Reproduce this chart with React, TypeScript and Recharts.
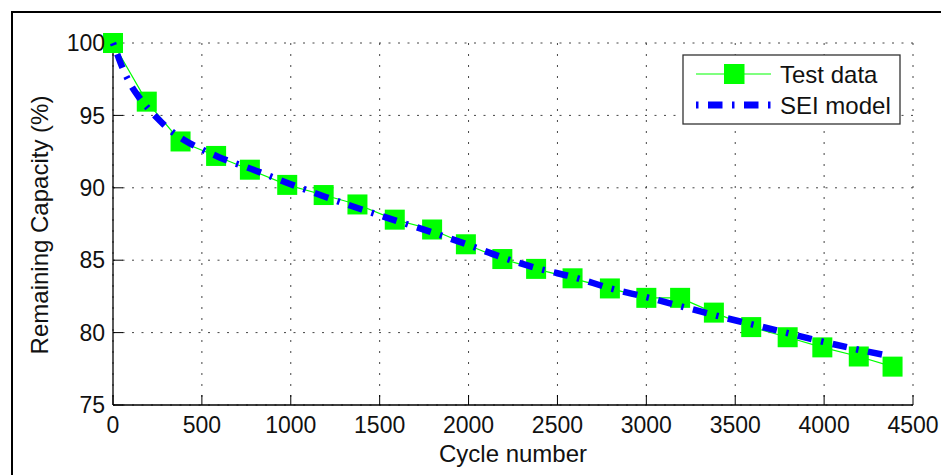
import { LineChart, Line, XAxis, YAxis, CartesianGrid } from 'recharts';

// test data (squares)
const testCycles = [0, 190, 380, 580, 770, 980, 1185, 1375, 1585, 1795, 1985, 2190, 2380, 2585, 2795, 3000, 3190, 3380, 3590, 3795, 3990, 4195, 4385];
const testCapacity = [100, 95.95, 93.2, 92.2, 91.25, 90.2, 89.5, 88.85, 87.8, 87.12, 86.1, 85.08, 84.4, 83.75, 83.05, 82.4, 82.4, 81.38, 80.38, 79.68, 78.98, 78.35, 77.65];

// SEI model curve
const modelCycles = [0, 25, 50, 75, 100, 150, 200, 250, 300, 400, 500, 600, 800, 1000, 1200, 1400, 1600, 1800, 2000, 2200, 2400, 2600, 2800, 3000, 3200, 3400, 3600, 3800, 4000, 4200, 4340];
const modelCapacity = [100, 99.2, 98.4, 97.7, 97.1, 96.2, 95.45, 94.8, 94.2, 93.3, 92.65, 92.1, 91.2, 90.25, 89.35, 88.5, 87.7, 86.9, 86.05, 85.15, 84.4, 83.8, 83.05, 82.45, 81.8, 81.15, 80.55, 79.95, 79.35, 78.8, 78.45];

const xTicks = [0, 500, 1000, 1500, 2000, 2500, 3000, 3500, 4000, 4500];
const yTicks = [75, 80, 85, 90, 95, 100];

const testData = testCycles.map((x, i) => ({ x, test: testCapacity[i] }));
const modelData = modelCycles.map((x, i) => ({ x, model: modelCapacity[i] }));

const FONT = '"Liberation Sans", Arial, sans-serif';
const GREEN = '#00ff00';
const BLUE = '#0000ff';
const SEI_DASH = '2.5 9.5 14.5 9.5';

const tickStyle = { fontSize: 23, fontFamily: FONT, fill: '#111' };

const Square = (props: any) => {
  const { cx, cy, index } = props;
  if (cx == null || cy == null) return <g key={`sq-${index}`} />;
  return <rect key={`sq-${index}`} x={cx - 10} y={cy - 10} width={20} height={20} fill={GREEN} />;
};

function LegendBox() {
  return (
    <svg
      width={219}
      height={71}
      style={{ position: 'absolute', left: 682, top: 54 }}
    >
      <rect x={1} y={1} width={217} height={69} fill="#fff" stroke="#333" strokeWidth={1.3} />
      <line x1={14} y1={20} x2={89} y2={20} stroke={GREEN} strokeWidth={1.2} />
      <rect x={42} y={10} width={20.5} height={20} fill={GREEN} />
      <text x={98} y={28.5} fontSize={24} fontFamily={FONT} fill="#111">Test data</text>
      <line x1={14} y1={51} x2={89} y2={51} stroke={BLUE} strokeWidth={7} strokeDasharray={SEI_DASH} />
      <text x={98} y={59.5} fontSize={24} fontFamily={FONT} fill="#111">SEI model</text>
    </svg>
  );
}

export default function App() {
  return (
    <div style={{ position: 'absolute', left: 0, top: 0, width: 941, height: 475, background: '#fff', overflow: 'hidden' }}>
      <div
        style={{
          position: 'absolute',
          left: 11,
          top: 11,
          right: 0,
          bottom: 0,
          borderTop: '2px solid #000',
          borderLeft: '2px solid #000',
        }}
      />
      <div style={{ position: 'absolute', left: 0, top: 0 }}>
        <LineChart width={941} height={475} margin={{ top: 43, right: 28, bottom: 0, left: 0 }}>
          <CartesianGrid horizontal={true} vertical={false} stroke="#444" strokeDasharray="2 7.5" />
          <CartesianGrid horizontal={false} vertical={true} stroke="#444" strokeDasharray="2 9" />
          <XAxis
            dataKey="x"
            type="number"
            domain={[0, 4500]}
            ticks={xTicks}
            interval={0}
            allowDuplicatedCategory={false}
            height={70}
            tickSize={-10}
            tickMargin={22}
            tick={tickStyle}
            axisLine={{ stroke: '#000', strokeWidth: 1.3 }}
            tickLine={{ stroke: '#000', strokeWidth: 1 }}
            label={{ value: 'Cycle number', position: 'insideBottom', offset: 13.5, fontSize: 24, fontFamily: FONT, fill: '#111' }}
          />
          <YAxis
            type="number"
            domain={[75, 100]}
            ticks={yTicks}
            interval={0}
            width={113}
            tickSize={-10}
            tickMargin={18}
            tick={tickStyle}
            axisLine={{ stroke: '#000', strokeWidth: 1.3 }}
            tickLine={{ stroke: '#000', strokeWidth: 1 }}
            label={{
              content: () => (
                <text
                  x={48}
                  y={225}
                  transform="rotate(-90 48 225)"
                  textAnchor="middle"
                  fontSize={24}
                  fontFamily={FONT}
                  fill="#111"
                >
                  Remaining Capacity (%)
                </text>
              ),
            }}
          />
          <Line
            data={testData}
            dataKey="test"
            type="linear"
            stroke={GREEN}
            strokeWidth={1.2}
            dot={Square}
            activeDot={false}
            isAnimationActive={false}
          />
          <Line
            data={modelData}
            dataKey="model"
            type="monotone"
            stroke={BLUE}
            strokeWidth={6.5}
            strokeDasharray={SEI_DASH}
            dot={false}
            activeDot={false}
            zIndex={700}
            isAnimationActive={false}
          />
        </LineChart>
      </div>
      <LegendBox />
    </div>
  );
}
